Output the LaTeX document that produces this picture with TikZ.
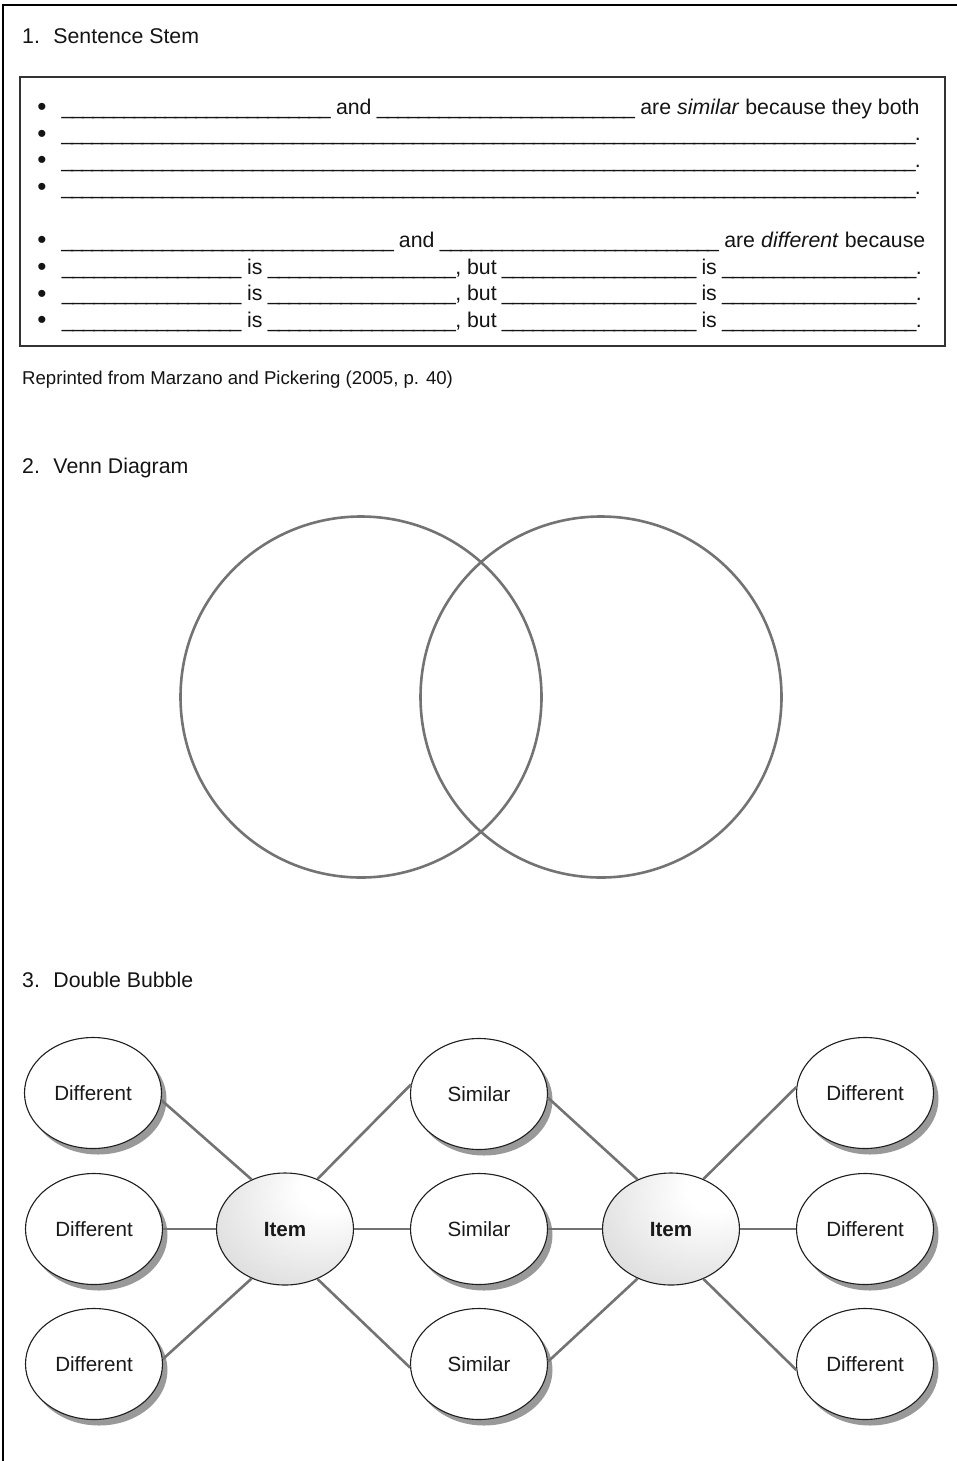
\documentclass[tikz,border=0pt]{standalone}
\usepackage{fontspec}
\setmainfont{Liberation Sans}
\usetikzlibrary{shapes.geometric,shadows}

% a blank to be filled in, built from underscore characters
\newcommand\blankline[1]{\hbox to #1{\xleaders\hbox to 10pt{\hss\_\hss}\hfill}}

% soft highlight in the upper right of the central bubbles
\pgfdeclareradialshading{itemball}{\pgfpoint{18bp}{20bp}}{%
  color(0bp)=(white); color(10bp)=(white); color(42bp)=(black!14); color(80bp)=(black!24)}

\tikzset{
  txt/.style={inner sep=0pt, text=black!92, font=\fontsize{21.3}{25}\selectfont},
  head/.style={txt, anchor=base west},
  row/.style={txt, anchor=base west},
  bul/.style={inner sep=0pt, anchor=base, text=black!92, font=\fontsize{26}{30}\selectfont},
  note/.style={inner sep=0pt, anchor=base west, text=black!92, font=\fontsize{18.6}{22}\selectfont},
  bubble/.style={ellipse, draw=black!88, line width=1.1pt, fill=white,
    minimum width=137pt, minimum height=111pt, inner sep=0pt,
    text=black!90, font=\fontsize{20.6}{24}\selectfont,
    drop shadow={shadow xshift=5pt, shadow yshift=-6pt, fill=black!40, opacity=1}},
  item/.style={ellipse, draw=black!88, line width=1.1pt, shading=itemball,
    minimum width=137pt, minimum height=112pt, inner sep=0pt,
    text=black!90, font=\fontsize{20.6}{24}\selectfont\bfseries},
  link/.style={draw=black!55, line width=2.6pt},
  venn/.style={draw=black!55, line width=2.6pt},
}

\begin{document}
\begin{tikzpicture}[x=1pt, y=-1pt]
\useasboundingbox (0,0) rectangle (957,1461);

% page frame (open at the right and bottom)
\draw[line width=1.6pt] (957,5) -- (3,5) -- (3,1461);

% ---- 1. Sentence stem ----
\node[head] (h1) at (22,43.5) {1.\hspace{13.5pt}Sentence Stem};
\draw[draw=black!80, line width=1.8pt] (20,77) rectangle (945,346);

\foreach \k/\y in {1/114, 2/140.7, 3/167.3, 4/194, 5/247.3, 6/274, 7/300.7, 8/327.3}
  \node[bul] (b\k) at (42,\y+1.5) {\textbullet};

\node[row] (r1) at (62,114) {\blankline{268pt} and \blankline{257pt} are \textit{similar} because they both};
\node[row] (r2) at (62,140.7) {\blankline{853pt}.};
\node[row] (r3) at (62,167.3) {\blankline{853pt}.};
\node[row] (r4) at (62,194) {\blankline{853pt}.};
\node[row] (r5) at (62,247.3) {\blankline{331pt} and \blankline{278pt} are \textit{different} because};
\node[row] (r6) at (62,274) {\blankline{179pt} is \blankline{187pt}, but \blankline{193pt} is \blankline{193pt}.};
\node[row] (r7) at (62,300.7) {\blankline{179pt} is \blankline{187pt}, but \blankline{193pt} is \blankline{193pt}.};
\node[row] (r8) at (62,327.3) {\blankline{179pt} is \blankline{187pt}, but \blankline{193pt} is \blankline{193pt}.};

\node[note] (src) at (22,384) {Reprinted from Marzano and Pickering (2005, p. 40)};

% ---- 2. Venn diagram ----
\node[head] (h2) at (22,473.5) {2.\hspace{13.5pt}Venn Diagram};
\draw[venn] (361,697) circle[radius=180.5pt];
\draw[venn] (601,697) circle[radius=180.5pt];

% ---- 3. Double bubble ----
\node[head] (h3) at (22,987.5) {3.\hspace{13.5pt}Double Bubble};

\node[bubble] (d1) at (93,1093) {Different};
\node[bubble] (d2) at (94,1229) {Different};
\node[bubble] (d3) at (94,1364) {Different};

\node[item] (iL) at (285,1229) {Item};

\node[bubble] (s1) at (479,1094) {Similar};
\node[bubble] (s2) at (479,1229) {Similar};
\node[bubble] (s3) at (479,1364) {Similar};

\node[item] (iR) at (671,1229) {Item};

\node[bubble] (D1) at (865,1093) {Different};
\node[bubble] (D2) at (865,1229) {Different};
\node[bubble] (D3) at (865,1364) {Different};

\draw[link] (d1.-6) -- (iL.124);
\draw[link] (d2) -- (iL);
\draw[link] (d3.4) -- (iL.-124);
\draw[link] (iL.57) -- (s1.172);
\draw[link] (iL) -- (s2);
\draw[link] (iL.-57) -- (s3.183);
\draw[link] (s1.-3) -- (iR.124);
\draw[link] (s2) -- (iR);
\draw[link] (s3.2) -- (iR.-124);
\draw[link] (iR.57) -- (D1.175);
\draw[link] (iR) -- (D2);
\draw[link] (iR.-57) -- (D3.185);
\end{tikzpicture}
\end{document}
